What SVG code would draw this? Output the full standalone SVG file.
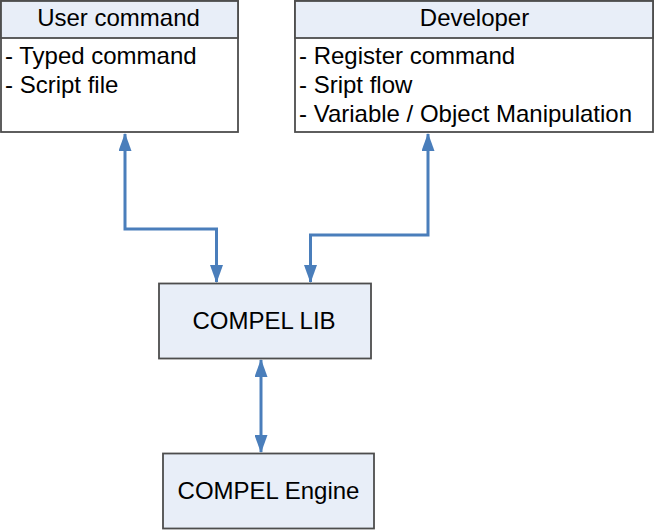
<svg xmlns="http://www.w3.org/2000/svg" width="655" height="530" viewBox="0 0 655 530">
<style>
.box{fill:#ffffff;stroke:#4d4d4d;stroke-width:1.8}
.hdr{fill:#e8eef8;stroke:#4d4d4d;stroke-width:1.8}
.t{font-family:"Liberation Sans",Arial,sans-serif;font-size:24px;fill:#000}
.c{text-anchor:middle}
.conn{fill:none;stroke:#4a7ebb;stroke-width:3}
</style>
<defs>
<marker id="ah" viewBox="0 0 18 13" refX="17" refY="6.5" markerWidth="18" markerHeight="13" markerUnits="userSpaceOnUse" orient="auto-start-reverse">
<path d="M0,0 L18,6.5 L0,13 Z" fill="#4a7ebb"/>
</marker>
</defs>
<g id="connectors">
<path class="conn" d="M125,134 V229 H216.5 V282" marker-start="url(#ah)" marker-end="url(#ah)"/>
<path class="conn" d="M428,134 V235 H310.5 V282" marker-start="url(#ah)" marker-end="url(#ah)"/>
<path class="conn" d="M261,360 V452" marker-start="url(#ah)" marker-end="url(#ah)"/>
</g>
<g id="user-command">
<rect class="box" x="1" y="1" width="237" height="131"/>
<rect class="hdr" x="1" y="1" width="237" height="37"/>
<text class="t c" x="118.5" y="26">User command</text>
<text class="t" x="5" y="64">- Typed command</text>
<text class="t" x="5" y="93">- Script file</text>
</g>
<g id="developer">
<rect class="box" x="295" y="1" width="358" height="131"/>
<rect class="hdr" x="295" y="1" width="358" height="37"/>
<text class="t c" x="474.5" y="26">Developer</text>
<text class="t" x="299" y="64">- Register command</text>
<text class="t" x="299" y="93">- Sript flow</text>
<text class="t" x="299" y="122">- Variable / Object Manipulation</text>
</g>
<g id="compel-lib">
<rect class="hdr" x="159" y="283.5" width="212" height="75"/>
<text class="t c" x="264" y="329">COMPEL LIB</text>
</g>
<g id="compel-engine">
<rect class="hdr" x="163" y="453.5" width="211" height="75"/>
<text class="t c" x="268.5" y="499">COMPEL Engine</text>
</g>
</svg>
